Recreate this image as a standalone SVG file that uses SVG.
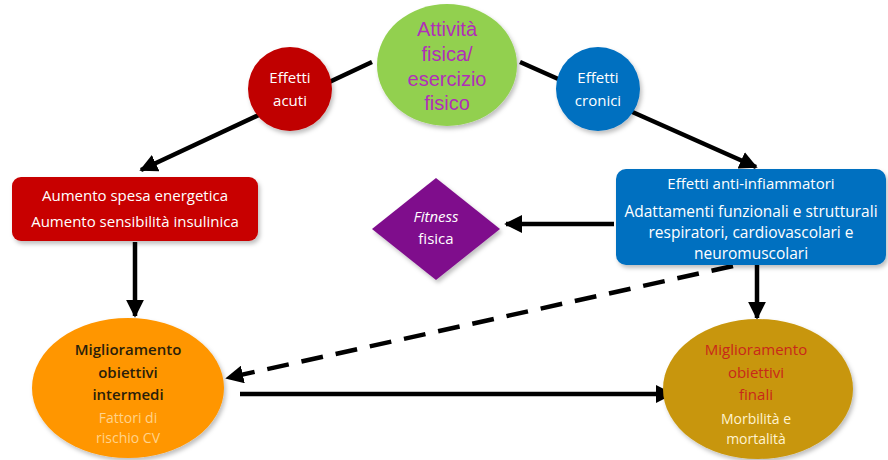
<svg xmlns="http://www.w3.org/2000/svg" width="888" height="460" viewBox="0 0 888 460">
<defs>
<style>
text{font-family:"Open Sans","Liberation Sans",sans-serif;text-anchor:middle}
.w{fill:#ffffff;font-size:15px}
.big{fill:#b02fb8;font-size:20px;font-family:"Liberation Sans","Open Sans",sans-serif}
.ob{fill:#2a1e0a;font-size:15px;font-weight:600}
.line{stroke:#000;stroke-width:4.5;fill:none}
</style>
<marker id="ah" viewBox="0 0 10 10" refX="9" refY="5" markerWidth="4" markerHeight="4" orient="auto" markerUnits="strokeWidth">
<path d="M0,0 L10,5 L0,10 z" fill="#000"/>
</marker>
<filter id="sh" x="-10%" y="-10%" width="125%" height="130%">
<feDropShadow dx="2" dy="3" stdDeviation="2" flood-color="#000" flood-opacity="0.25"/>
</filter>
</defs>
<rect width="888" height="460" fill="#ffffff"/>
<g id="connectors">
<line class="line" x1="372" y1="62" x2="141" y2="170" marker-end="url(#ah)"/>
<line class="line" x1="520" y1="62" x2="756" y2="167" marker-end="url(#ah)"/>
<line class="line" x1="135" y1="242" x2="135" y2="316" marker-end="url(#ah)"/>
<line class="line" x1="614" y1="224" x2="506" y2="224" marker-end="url(#ah)"/>
<line class="line" x1="757" y1="265" x2="757" y2="318" marker-end="url(#ah)"/>
<line class="line" x1="733" y1="266" x2="227" y2="378" stroke-dasharray="22,13" stroke-width="6" marker-end="url(#ah)"/>
<line class="line" x1="240" y1="394" x2="672" y2="394" marker-end="url(#ah)"/>
</g>
<g id="attivita">
<ellipse cx="447" cy="65" rx="70" ry="61" fill="#92d050" filter="url(#sh)"/>
<text class="big" x="447" y="36">Attività</text>
<text class="big" x="447" y="61">fisica/</text>
<text class="big" x="447" y="86">esercizio</text>
<text class="big" x="447" y="110">fisico</text>
</g>
<g id="acuti">
<circle cx="290" cy="89" r="42" fill="#c00000" filter="url(#sh)"/>
<text class="w" x="290" y="83">Effetti</text>
<text class="w" x="290" y="106">acuti</text>
</g>
<g id="cronici">
<circle cx="598" cy="89" r="42" fill="#0070c0" filter="url(#sh)"/>
<text class="w" x="598" y="83">Effetti</text>
<text class="w" x="598" y="106">cronici</text>
</g>
<g id="spesa">
<rect x="12" y="177" width="246" height="64" rx="9" fill="#c80000" filter="url(#sh)"/>
<text class="w" x="135" y="201">Aumento spesa energetica</text>
<text class="w" x="135" y="227">Aumento sensibilità insulinica</text>
</g>
<g id="antiinf">
<rect x="616" y="169" width="270" height="96" rx="10" fill="#0070c0" filter="url(#sh)"/>
<text class="w" x="751" y="189">Effetti anti-infiammatori</text>
<text class="w" x="751" y="217" style="font-size:15.5px">Adattamenti funzionali e strutturali</text>
<text class="w" x="751" y="238" style="font-size:15.5px">respiratori, cardiovascolari e</text>
<text class="w" x="751" y="259" style="font-size:15.5px">neuromuscolari</text>
</g>
<g id="fitness">
<polygon points="436,178 500,229 436,280 372,229" fill="#7f0f8c" filter="url(#sh)"/>
<text class="w" x="436" y="222" font-style="italic">Fitness</text>
<text class="w" x="436" y="244">fisica</text>
</g>
<g id="intermedi">
<ellipse cx="128" cy="388" rx="96" ry="70" fill="#ff9600" filter="url(#sh)"/>
<text class="ob" x="128" y="355">Miglioramento</text>
<text class="ob" x="128" y="378">obiettivi</text>
<text class="ob" x="128" y="400">intermedi</text>
<text x="128" y="423" style="fill:#ffd38a;font-size:14px">Fattori di</text>
<text x="128" y="443" style="fill:#ffd38a;font-size:14px">rischio CV</text>
</g>
<g id="finali">
<ellipse cx="758" cy="389" rx="95" ry="70" fill="#c8960a" filter="url(#sh)"/>
<text class="ob" x="756" y="355" style="fill:#c8281a;font-weight:400">Miglioramento</text>
<text class="ob" x="756" y="378" style="fill:#c8281a;font-weight:400">obiettivi</text>
<text class="ob" x="756" y="400" style="fill:#c8281a;font-weight:400">finali</text>
<text x="756" y="424" style="fill:#fff3d0;font-size:14px">Morbilità e</text>
<text x="756" y="444" style="fill:#fff3d0;font-size:14px">mortalità</text>
</g>
</svg>
